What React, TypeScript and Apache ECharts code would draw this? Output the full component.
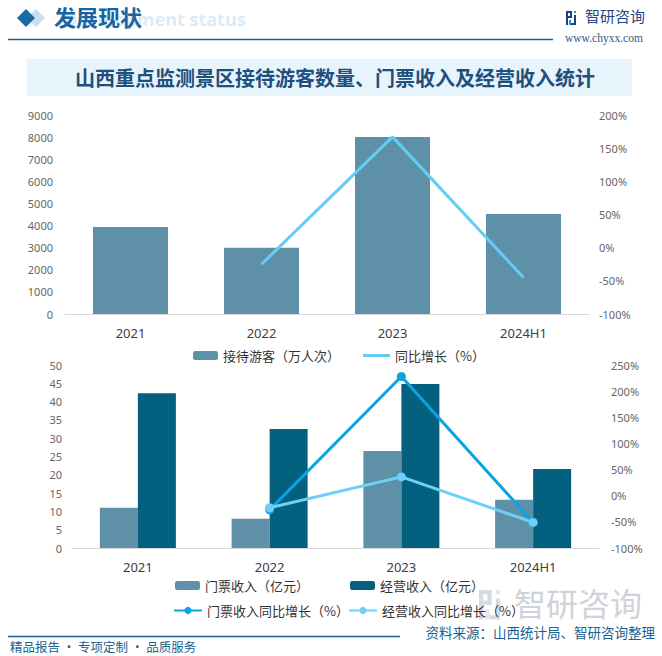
import React, { useEffect, useRef } from "react";
import * as echarts from "echarts";

const categories = ["2021", "2022", "2023", "2024H1"];
const visitors = [3940, 3000, 8010, 4520];
const visitorGrowth = [null, -25, 167, -45];
const ticketRevenue = [11.0, 8.0, 26.5, 13.2];
const operatingRevenue = [42.3, 32.5, 44.8, 21.6];
const ticketGrowth = [null, -27, 228, -51];
const operatingGrowth = [null, -23, 36, -51];

const NAME_VISITORS = "接待游客（万人次）";
const NAME_VGROWTH = "同比增长（%）";
const NAME_TICKET = "门票收入（亿元）";
const NAME_OPER = "经营收入（亿元）";
const NAME_TGROWTH = "门票收入同比增长（%）";
const NAME_OGROWTH = "经营收入同比增长（%）";

const FONT = "'Noto Sans', 'Noto Sans CJK SC', sans-serif";
const CJK = "'Noto Sans CJK SC', sans-serif";

const C_BAR1 = "#5e91a8";
const C_BAR2 = "#04607f";
const C_LINE_TOP = "#63cdf5";
const C_LINE_T = "#0aa5e0";
const C_LINE_O = "#6dd0f7";

function logoIcon(x: number, y: number, s: number, dark: string, light: string) {
  return {
    type: "group",
    x,
    y,
    children: [
      { type: "rect", shape: { x: 0, y: 0, width: 6 * s, height: 2 * s }, style: { fill: dark } },
      { type: "rect", shape: { x: 0, y: 0, width: 2 * s, height: 14 * s }, style: { fill: dark } },
      { type: "rect", shape: { x: 4 * s, y: 0, width: 2 * s, height: 7 * s }, style: { fill: dark } },
      { type: "rect", shape: { x: 2 * s, y: 5 * s, width: 4 * s, height: 2 * s }, style: { fill: dark } },
      { type: "rect", shape: { x: 3 * s, y: 9 * s, width: 2 * s, height: 5 * s }, style: { fill: light } },
      { type: "rect", shape: { x: 8 * s, y: 0, width: 2 * s, height: 2 * s }, style: { fill: light } },
      { type: "rect", shape: { x: 8 * s, y: 4 * s, width: 2 * s, height: 10 * s }, style: { fill: dark } },
      { type: "rect", shape: { x: 5 * s, y: 12 * s, width: 5 * s, height: 2 * s }, style: { fill: dark } },
    ],
  };
}

export default function App() {
  const ref = useRef<HTMLDivElement>(null);

  useEffect(() => {
    document.body.style.margin = "0";
    if (!ref.current) return;
    const chart = echarts.init(ref.current, null, { renderer: "svg" });

    const legendText = { color: "#333333", fontSize: 13, fontFamily: CJK };
    const catAxis = (gridIndex: number, margin: number) => ({
      type: "category",
      gridIndex,
      data: categories,
      axisLine: { lineStyle: { color: "#d9d9d9", width: 1 } },
      axisTick: { show: false },
      axisLabel: { color: "#404040", fontSize: 13, margin, fontFamily: FONT },
    });
    const valAxis = (gridIndex: number, position: string, min: number, max: number, interval: number, pct: boolean, margin: number) => ({
      type: "value",
      gridIndex,
      position,
      min,
      max,
      interval,
      splitLine: { show: false },
      axisLine: { show: false },
      axisTick: { show: false },
      axisLabel: {
        color: "#666666",
        fontSize: 11,
        margin,
        fontFamily: FONT,
        formatter: (v: number) => (pct ? `${v}%` : `${v}`),
      },
    });

    const option: any = {
      animation: false,
      backgroundColor: "#ffffff",
      grid: [
        { left: 65, top: 115, width: 524, height: 199 },
        { left: 72, top: 365, width: 527, height: 183 },
      ],
      xAxis: [catAxis(0, 12), catAxis(1, 12)],
      yAxis: [
        valAxis(0, "left", 0, 9000, 1000, false, 12),
        valAxis(0, "right", -100, 200, 50, true, 10),
        valAxis(1, "left", 0, 50, 5, false, 10),
        valAxis(1, "right", -100, 250, 50, true, 12),
      ],
      legend: [
        {
          data: [NAME_VISITORS], left: 188, top: 344, itemWidth: 25, itemHeight: 9,
          textStyle: legendText,
        },
        {
          data: [{ name: NAME_VGROWTH, icon: "rect" }], left: 358, top: 344, itemWidth: 27, itemHeight: 3,
          textStyle: legendText,
        },
        {
          data: [NAME_TICKET], left: 170, top: 574, itemWidth: 25, itemHeight: 9,
          textStyle: legendText,
        },
        {
          data: [NAME_OPER], left: 345, top: 574, itemWidth: 25, itemHeight: 9,
          textStyle: legendText,
        },
        {
          data: [NAME_TGROWTH], left: 168, top: 599, itemWidth: 28, itemHeight: 9,
          textStyle: legendText,
        },
        {
          data: [NAME_OGROWTH], left: 343, top: 599, itemWidth: 28, itemHeight: 9,
          textStyle: legendText,
        },
      ],
      series: [
        {
          name: NAME_VISITORS, type: "bar", xAxisIndex: 0, yAxisIndex: 0,
          data: visitors, barWidth: 75, itemStyle: { color: C_BAR1 },
        },
        {
          name: NAME_VGROWTH, type: "line", xAxisIndex: 0, yAxisIndex: 1,
          data: visitorGrowth, symbol: "none", lineStyle: { color: C_LINE_TOP, width: 3 },
          itemStyle: { color: C_LINE_TOP },
        },
        {
          name: NAME_TICKET, type: "bar", xAxisIndex: 1, yAxisIndex: 2,
          data: ticketRevenue, barWidth: 38, barGap: "0%", itemStyle: { color: C_BAR1 },
        },
        {
          name: NAME_OPER, type: "bar", xAxisIndex: 1, yAxisIndex: 2,
          data: operatingRevenue, barWidth: 38, barGap: "0%", itemStyle: { color: C_BAR2 },
        },
        {
          name: NAME_TGROWTH, type: "line", xAxisIndex: 1, yAxisIndex: 3,
          data: ticketGrowth, symbol: "circle", symbolSize: 9,
          lineStyle: { color: C_LINE_T, width: 3 }, itemStyle: { color: C_LINE_T },
        },
        {
          name: NAME_OGROWTH, type: "line", xAxisIndex: 1, yAxisIndex: 3,
          data: operatingGrowth, symbol: "circle", symbolSize: 9,
          lineStyle: { color: C_LINE_O, width: 3 }, itemStyle: { color: C_LINE_O },
        },
      ],
      graphic: [
        logoIcon(479, 590, 2.1, "#d6dbe3", "#e3e8ee"),
        {
          type: "text", left: 514, top: 586, z: -1,
          style: { text: "智研咨询", fill: "#cfd3d9", font: `32px ${CJK}` },
        },
        {
          type: "text", left: 64, top: 10,
          style: { text: "Development status", fill: "#dcebf6", font: `bold 18px 'Open Sans', sans-serif` },
        },
        {
          type: "polygon",
          shape: { points: [[36, 9], [45, 18], [36, 27], [27, 18]] },
          style: { fill: "#c9deee" },
        },
        {
          type: "polygon",
          shape: { points: [[26, 9], [35, 18], [26, 27], [17, 18]] },
          style: { fill: "#1a6aa3" },
        },
        {
          type: "text", left: 54, top: 5,
          style: { text: "发展现状", fill: "#1a63a0", font: `bold 22px ${CJK}` },
        },
        {
          type: "line",
          shape: { x1: 8, y1: 39.5, x2: 553, y2: 39.5 },
          style: { stroke: "#1b5f8c", lineWidth: 1.5 },
        },
        logoIcon(566, 11, 1.0, "#1f3f7f", "#2b8fd0"),
        {
          type: "text", left: 585, top: 8,
          style: { text: "智研咨询", fill: "#23467f", font: `15px ${CJK}` },
        },
        {
          type: "text", left: 565, top: 32,
          style: { text: "www.chyxx.com", fill: "#2d5a88", font: `11.5px 'Liberation Serif', serif` },
        },
        {
          type: "rect",
          shape: { x: 27, y: 59, width: 605, height: 37 },
          style: { fill: "#e8f4fc" },
        },
        {
          type: "text", x: 335, y: 77.5,
          style: {
            text: "山西重点监测景区接待游客数量、门票收入及经营收入统计",
            fill: "#1f4f7c", font: `bold 20px ${CJK}`, textAlign: "center", textVerticalAlign: "middle",
          },
        },
        {
          type: "line",
          shape: { x1: 8, y1: 636.5, x2: 400, y2: 636.5 },
          style: { stroke: "#1b5f8c", lineWidth: 1.5 },
        },
        {
          type: "text", left: 10, top: 640,
          style: { text: "精品报告 · 专项定制 · 品质服务", fill: "#1b5f8c", font: `12.5px ${CJK}` },
        },
        {
          type: "text", x: 655, y: 632,
          style: {
            text: "资料来源：山西统计局、智研咨询整理", fill: "#1b5f8c", font: `13.5px ${CJK}`,
            textAlign: "right", textVerticalAlign: "middle",
          },
        },
      ],
    };

    chart.setOption(option);
    return () => chart.dispose();
  }, []);

  return <div ref={ref} style={{ width: 662, height: 656 }} />;
}
